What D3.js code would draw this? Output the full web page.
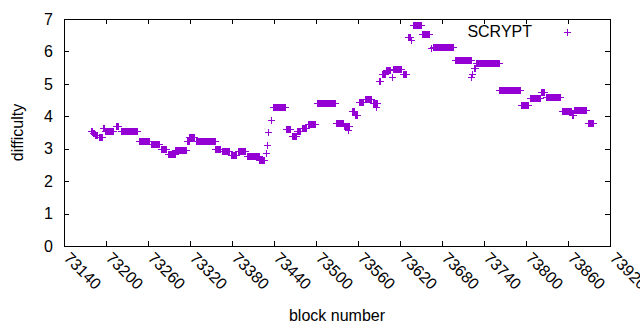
<!DOCTYPE html>
<html>
<head>
<meta charset="utf-8">
<script src="https://cdn.jsdelivr.net/npm/d3@7"></script>
<style>
  body { margin: 0; background: #fff; }
  svg { display: block; font-family: "Liberation Sans", Arial, sans-serif; }
</style>
</head>
<body>
<div id="chart"></div>
<script>
// difficulty holds constant between retargets, so each run is one level
const runStart = [73178, 73181, 73184, 73190, 73195, 73198, 73214, 73221, 73247, 73264,
  73278, 73288, 73299, 73316, 73319, 73328, 73356, 73366, 73378, 73388,
  73402, 73419, 73428, 73430, 73432, 73435, 73439, 73457, 73466, 73473,
  73480, 73489, 73502, 73529, 73540, 73546, 73551, 73556, 73561, 73570,
  73581, 73586, 73590, 73594, 73600, 73608, 73610, 73624, 73631, 73635,
  73638, 73651, 73664, 73667, 73698, 73722, 73723, 73725, 73729, 73762,
  73793, 73806, 73822, 73829, 73852, 73866, 73869, 73888];
const runEnd = [73180, 73183, 73187, 73194, 73197, 73210, 73217, 73244, 73261, 73275,
  73285, 73298, 73314, 73318, 73326, 73355, 73363, 73375, 73386, 73399,
  73418, 73425, 73428, 73430, 73432, 73436, 73456, 73463, 73472, 73477,
  73486, 73499, 73527, 73539, 73547, 73546, 73554, 73558, 73567, 73578,
  73587, 73586, 73592, 73598, 73605, 73608, 73621, 73628, 73634, 73635,
  73650, 73662, 73664, 73695, 73721, 73722, 73723, 73727, 73761, 73792,
  73803, 73820, 73826, 73849, 73864, 73867, 73886, 73896];
const runValue = [3.55, 3.5, 3.43, 3.35, 3.65, 3.55, 3.7, 3.55, 3.25, 3.15,
  3.0, 2.85, 2.95, 3.25, 3.35, 3.25, 3.0, 2.92, 2.82, 2.92,
  2.78, 2.65, 2.87, 3.1, 3.52, 3.9, 4.3, 3.6, 3.4, 3.55,
  3.65, 3.75, 4.4, 3.8, 3.7, 3.58, 4.15, 4.05, 4.45, 4.52,
  4.4, 4.3, 5.08, 5.3, 5.42, 5.2, 5.45, 5.3, 6.45, 6.35,
  6.8, 6.55, 6.1, 6.15, 5.75, 5.2, 5.3, 5.5, 5.65, 4.8,
  4.35, 4.55, 4.75, 4.6, 4.15, 4.05, 4.2, 3.8];

const xTicks = [73140, 73200, 73260, 73320, 73380, 73440, 73500, 73560, 73620, 73680, 73740, 73800, 73860, 73920];
const yTicks = [0, 1, 2, 3, 4, 5, 6, 7];
const seriesName = 'SCRYPT';

const width = 640;
const height = 330;
const color = '#9400d3';

const points = [];
runStart.forEach((s, i) => {
  for (let b = s; b <= runEnd[i]; b++) points.push({ block: b, value: runValue[i] });
});

const x = d3.scaleLinear().domain([73140, 73920]).range([64, 610]);
const y = d3.scaleLinear().domain([0, 7]).range([246, 19]);

const svg = d3.select('#chart').append('svg')
  .attr('width', width)
  .attr('height', height);

const tickLen = 5;
const axes = svg.append('g')
  .attr('stroke', '#000')
  .attr('stroke-width', 1)
  .attr('shape-rendering', 'crispEdges');

// ticks mirrored on all four sides, pointing inward
xTicks.forEach(t => {
  const px = Math.round(x(t)) + 0.5;
  axes.append('line').attr('x1', px).attr('x2', px).attr('y1', y(0)).attr('y2', y(0) - tickLen);
  axes.append('line').attr('x1', px).attr('x2', px).attr('y1', y(7)).attr('y2', y(7) + tickLen);
});
yTicks.forEach(t => {
  const py = Math.round(y(t)) + 0.5;
  axes.append('line').attr('x1', x.range()[0]).attr('x2', x.range()[0] + tickLen).attr('y1', py).attr('y2', py);
  axes.append('line').attr('x1', x.range()[1]).attr('x2', x.range()[1] - tickLen).attr('y1', py).attr('y2', py);
});

axes.append('rect')
  .attr('x', x.range()[0] + 0.5)
  .attr('y', y(7) + 0.5)
  .attr('width', x.range()[1] - x.range()[0])
  .attr('height', y(0) - y(7))
  .attr('fill', 'none');

svg.append('g')
  .attr('font-size', 16)
  .attr('fill', '#000')
  .attr('text-anchor', 'end')
  .selectAll('text')
  .data(yTicks)
  .join('text')
  .attr('x', 53)
  .attr('y', d => y(d))
  .attr('dy', '0.36em')
  .text(d => d);

svg.append('g')
  .attr('font-size', 16)
  .attr('fill', '#000')
  .selectAll('text')
  .data(xTicks)
  .join('text')
  .attr('transform', d => `translate(${x(d) - 1},${259}) rotate(45)`)
  .text(d => d);

svg.append('text')
  .attr('font-size', 16)
  .attr('text-anchor', 'middle')
  .attr('x', (x.range()[0] + x.range()[1]) / 2)
  .attr('y', 321)
  .text('block number');

svg.append('text')
  .attr('font-size', 16)
  .attr('text-anchor', 'middle')
  .attr('transform', `translate(23,${(y(0) + y(7)) / 2}) rotate(-90)`)
  .text('difficulty');

const plus = 'M-3.5,0h7M0,-3.5v7';

svg.append('g')
  .attr('stroke', color)
  .attr('stroke-width', 1)
  .attr('fill', 'none')
  .attr('shape-rendering', 'crispEdges')
  .selectAll('path')
  .data(points)
  .join('path')
  .attr('transform', d => `translate(${Math.round(x(d.block)) + 0.5},${Math.round(y(d.value)) + 0.5})`)
  .attr('d', plus);

const legend = svg.append('g');
legend.append('text')
  .attr('font-size', 16)
  .attr('text-anchor', 'end')
  .attr('x', 532)
  .attr('y', 37)
  .text(seriesName);
legend.append('path')
  .attr('transform', 'translate(567.5,32.5)')
  .attr('stroke', color)
  .attr('shape-rendering', 'crispEdges')
  .attr('d', plus);
</script>
</body>
</html>
